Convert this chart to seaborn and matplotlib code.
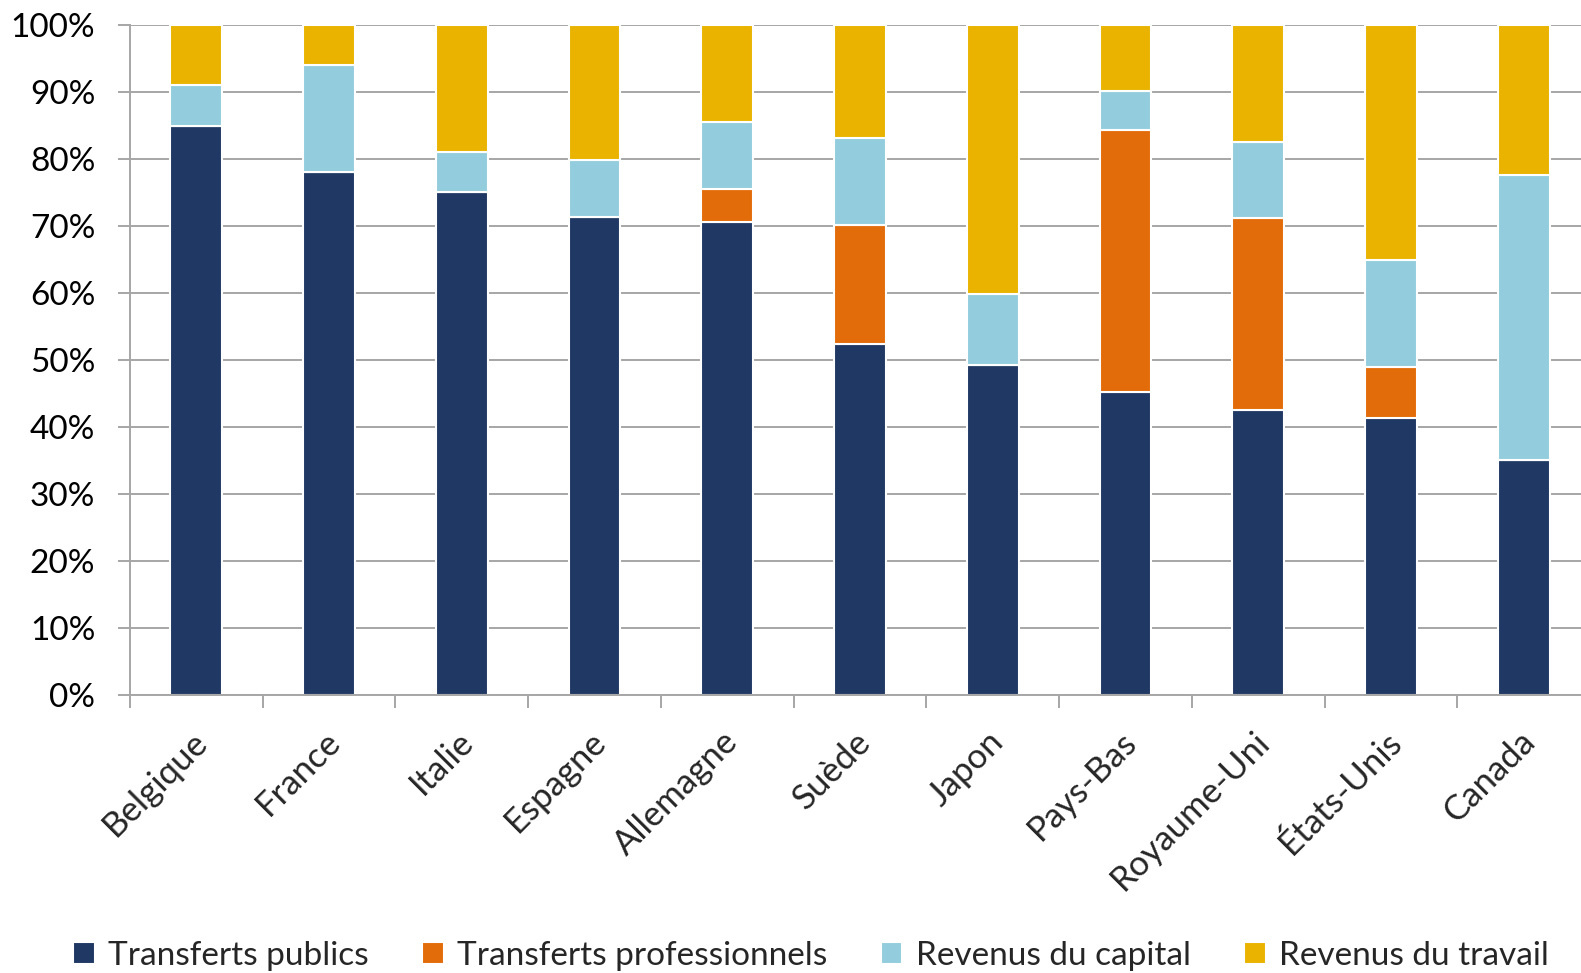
import numpy as np
import pandas as pd
import matplotlib
matplotlib.use('Agg')
import matplotlib.pyplot as plt
import matplotlib.transforms as mtransforms
import seaborn as sns

# Data (shares in %)
pays = ['Belgique', 'France', 'Italie', 'Espagne', 'Allemagne', 'Suède',
        'Japon', 'Pays-Bas', 'Royaume-Uni', 'États-Unis', 'Canada']
transferts_publics = [85.0, 78.0, 75.1, 71.4, 70.6, 52.4, 49.2, 45.2, 42.6, 41.3, 35.1]
transferts_pro = [0.0, 0.0, 0.0, 0.0, 4.9, 17.8, 0.0, 39.1, 28.6, 7.6, 0.0]
revenus_capital = [6.0, 16.1, 5.9, 8.4, 10.0, 12.9, 10.6, 5.9, 11.3, 16.0, 42.5]
revenus_travail = [9.0, 5.9, 19.0, 20.2, 14.5, 16.9, 40.2, 9.8, 17.5, 35.1, 22.4]

series = ['Transferts publics', 'Transferts professionnels',
          'Revenus du capital', 'Revenus du travail']
couleurs = ['#203864', '#E36C0A', '#93CDDD', '#E9B300']

df = pd.DataFrame({
    'pays': pays,
    'Transferts publics': transferts_publics,
    'Transferts professionnels': transferts_pro,
    'Revenus du capital': revenus_capital,
    'Revenus du travail': revenus_travail,
})

sns.set_theme(style='white')
plt.rcParams['font.family'] = ['Lato', 'DejaVu Sans']

fig = plt.figure(figsize=(15.81, 9.73), dpi=100)
ax = fig.add_axes([130 / 1581, 278 / 973, 1460 / 1581, 670 / 973])

# stacked bars, one barplot call per series
bas = np.zeros(len(df))
for nom, coul in zip(series, couleurs):
    sns.barplot(data=df, x='pays', y=nom, bottom=bas, color=coul, width=0.39,
                saturation=1, edgecolor='white', linewidth=1.5, label=nom,
                ax=ax, zorder=3)
    bas = bas + df[nom].values

ax.set_xlim(-0.5, 10.5)
ax.set_ylim(0, 100)
ax.set_yticks(np.arange(0, 101, 10))
ax.set_yticklabels([f'{v}%' for v in range(0, 101, 10)])
ax.yaxis.grid(True, color='#A6A6A6', linewidth=1.4, zorder=0)
ax.set_axisbelow(True)
ax.set_xlabel('')
ax.set_ylabel('')

for s in ['top', 'right']:
    ax.spines[s].set_visible(False)
for s in ['left', 'bottom']:
    ax.spines[s].set_color('#A6A6A6')
    ax.spines[s].set_linewidth(1.4)
    ax.spines[s].set_zorder(4)

ax.tick_params(axis='y', which='major', direction='out', length=9, width=1.4,
               color='#A6A6A6', labelsize=24, pad=16, labelcolor='black', left=True)
ax.set_xticks(np.arange(-0.5, 11, 1), minor=True)
ax.tick_params(axis='x', which='minor', direction='out', length=9, width=1.4,
               color='#A6A6A6', bottom=True)
ax.tick_params(axis='x', which='major', length=0, labelsize=25, pad=30)
for lab in ax.get_xticklabels():
    lab.set_rotation(45)
    lab.set_ha('right')
    lab.set_va('center')
    lab.set_rotation_mode('anchor')
    lab.set_transform(lab.get_transform() +
                      mtransforms.ScaledTranslation(0.06, 0, fig.dpi_scale_trans))

if ax.get_legend() is not None:
    ax.get_legend().remove()
handles, labels = ax.get_legend_handles_labels()
fig.legend(handles, labels, loc='center', bbox_to_anchor=(0.513, 17 / 973), ncol=4,
           frameon=False, fontsize=24, handlelength=0.65, handleheight=0.65,
           handletextpad=0.4, columnspacing=1.6)

fig.savefig('out.png', dpi=100)
